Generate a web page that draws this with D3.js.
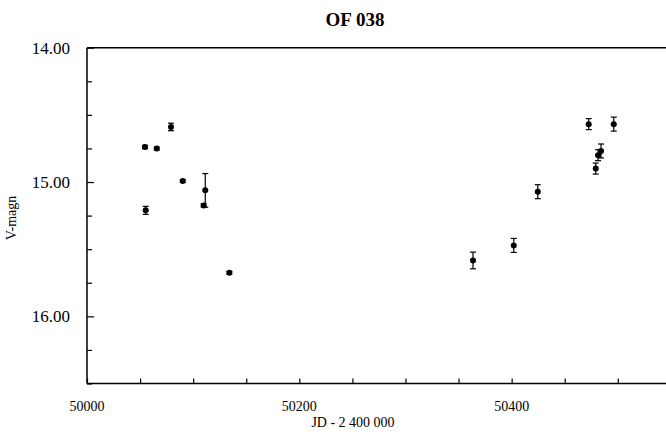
<!DOCTYPE html>
<html>
<head>
<meta charset="utf-8">
<script src="https://cdn.jsdelivr.net/npm/d3@7"></script>
<style>
  html, body { margin: 0; padding: 0; background: #fff; }
  svg { display: block; }
  text { font-family: "Liberation Serif", "Times New Roman", serif; fill: #000; }
</style>
</head>
<body>
<svg id="chart" width="666" height="435"></svg>
<script>
// Observations of OF 038: Julian date (JD - 2 400 000), V magnitude, error
const jd   = [50054.6, 50055.3, 50065.7, 50079.1, 50090.2, 50109.9, 50111.4, 50134.1,
              50363.6, 50402.0, 50424.6, 50472.6, 50479.2, 50481.4, 50484.2, 50496.2];
const vmag = [14.739, 15.211, 14.751, 14.590, 14.993, 15.174, 15.062, 15.676,
              15.584, 15.472, 15.072, 14.569, 14.900, 14.800, 14.769, 14.569];
const verr = [0.012, 0.030, 0.010, 0.028, 0.010, 0.012, 0.125, 0.010,
              0.062, 0.052, 0.052, 0.041, 0.041, 0.041, 0.052, 0.052];

const xTicks = [50000, 50200, 50400];
const yTicks = [14, 15, 16];

const svg = d3.select("#chart");
const plotLeft = 87, plotTop = 47.7, plotBottom = 383.5, plotRight = 666;

const x = d3.scaleLinear().domain([50000, 50545.4]).range([plotLeft, plotRight]);
const y = d3.scaleLinear().domain([14, 16.5]).range([plotTop, plotBottom]);

// frame top line
svg.append("line")
  .attr("x1", plotLeft).attr("x2", plotRight).attr("y1", plotTop).attr("y2", plotTop)
  .attr("stroke", "#000").attr("stroke-width", 1.5);

// y axis with inward ticks
const yAxis = svg.append("g").attr("transform", `translate(${plotLeft},0)`);
yAxis.call(d3.axisRight(y).tickValues(d3.range(14, 16.5001, 0.25)).tickSize(5).tickFormat(""))
  .call(g => g.select(".domain").remove());
yAxis.selectAll(".tick line").attr("stroke", "#000").attr("stroke-width", 1.2)
  .attr("x2", d => (Math.abs(d - Math.round(d)) < 1e-6 ? 7 : 5));
yAxis.append("line").attr("x1", 0).attr("x2", 0).attr("y1", plotTop).attr("y2", plotBottom)
  .attr("stroke", "#000").attr("stroke-width", 1.5);
yAxis.selectAll(".lbl").data(yTicks).enter().append("text")
  .attr("x", -17).attr("y", d => y(d)).attr("dy", "0.35em")
  .attr("text-anchor", "end").attr("font-size", 17)
  .text(d => d.toFixed(2));

// x axis with inward ticks
const xAxis = svg.append("g").attr("transform", `translate(0,${plotBottom})`);
xAxis.call(d3.axisTop(x).tickValues(d3.range(50000, 50546, 50)).tickSize(5).tickFormat(""))
  .call(g => g.select(".domain").remove());
xAxis.selectAll(".tick line").attr("stroke", "#000").attr("stroke-width", 1.2);
xAxis.append("line").attr("x1", plotLeft).attr("x2", plotRight).attr("y1", 0).attr("y2", 0)
  .attr("stroke", "#000").attr("stroke-width", 1.5);
xAxis.selectAll(".lbl").data(xTicks).enter().append("text")
  .attr("x", d => x(d)).attr("y", 27)
  .attr("text-anchor", "middle").attr("font-size", 14)
  .text(d => d);

// axis titles
svg.append("text").attr("x", 353).attr("y", 427).attr("text-anchor", "middle")
  .attr("font-size", 14).text("JD - 2 400 000");
svg.append("text").attr("transform", "translate(16,218) rotate(-90)")
  .attr("text-anchor", "middle").attr("font-size", 14).text("V-magn");

// title
svg.append("text").attr("x", 355).attr("y", 26).attr("text-anchor", "middle")
  .attr("font-size", 19).attr("font-weight", "bold").text("OF 038");

// error bars and points
const pts = jd.map((d, i) => ({ jd: d, v: vmag[i], e: verr[i] }));
const g = svg.append("g");
const eb = g.selectAll(".eb").data(pts).enter().append("g");
eb.append("line")
  .attr("x1", d => x(d.jd)).attr("x2", d => x(d.jd))
  .attr("y1", d => y(d.v - d.e)).attr("y2", d => y(d.v + d.e))
  .attr("stroke", "#000").attr("stroke-width", 1.2);
[-1, 1].forEach(s => {
  eb.append("line")
    .attr("x1", d => x(d.jd) - 3).attr("x2", d => x(d.jd) + 3)
    .attr("y1", d => y(d.v + s * d.e)).attr("y2", d => y(d.v + s * d.e))
    .attr("stroke", "#000").attr("stroke-width", 1.2);
});
g.selectAll(".pt").data(pts).enter().append("circle")
  .attr("cx", d => x(d.jd)).attr("cy", d => y(d.v)).attr("r", 3)
  .attr("fill", "#000");
</script>
</body>
</html>
